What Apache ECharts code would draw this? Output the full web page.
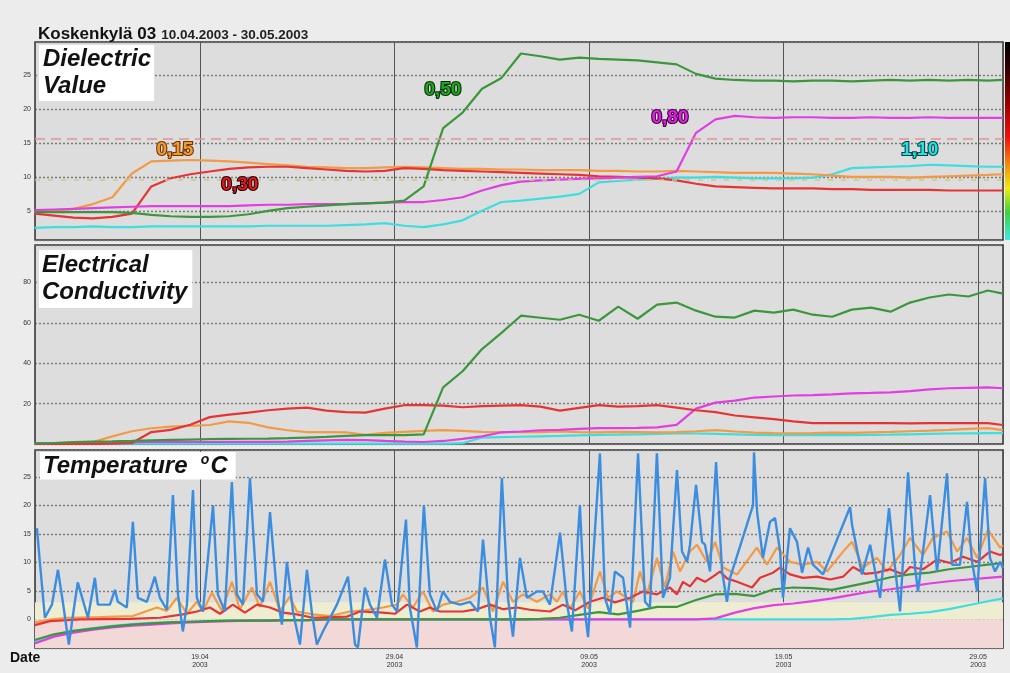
<!DOCTYPE html>
<html><head><meta charset="utf-8">
<script src="https://cdn.jsdelivr.net/npm/echarts@6/dist/echarts.min.js"></script>
<style>html,body{margin:0;padding:0;background:#ececec}#c{width:1010px;height:673px}</style>
</head><body><div id="c"></div>
<script>
// x values are days since 09.04.2003 00:00
const X_MIN = 1.52, X_MAX = 51.28;
const dayGrid = [1.5,2.5,3.5,4.5,5.5,6.5,7.5,8.5,9.5,10.5,11.5,12.5,13.5,14.5,15.5,16.5,17.5,18.5,19.5,20.5,21.5,22.5,23.5,24.5,25.5,26.5,27.5,28.5,29.5,30.5,31.5,32.5,33.5,34.5,35.5,36.5,37.5,38.5,39.5,40.5,41.5,42.5,43.5,44.5,45.5,46.5,47.5,48.5,49.5,50.5,51.28];
const depthNames = ['0,15','0,30','0,50','0,80','1,10'];

// Dielectric value
const dv015 = [4.8,5.0,5.3,6.0,7.0,10.5,12.3,12.4,12.5,12.4,12.3,12.1,11.9,11.7,11.5,11.4,11.3,11.3,11.4,11.5,11.4,11.3,11.2,11.2,11.1,11.1,11.0,11.0,11.0,10.9,10.9,10.8,10.8,10.9,10.8,10.7,10.6,10.6,10.6,10.5,10.4,10.2,10.0,10.0,10.0,9.9,10.0,10.1,10.2,10.3,10.4];
const dv030 = [4.6,4.3,4.0,3.9,4.1,4.6,8.6,9.8,10.4,10.8,11.2,11.4,11.5,11.5,11.3,11.1,10.9,10.8,10.9,11.3,11.2,11.0,10.9,10.8,10.7,10.6,10.5,10.4,10.3,10.1,10.0,9.9,9.8,9.5,9.0,8.6,8.5,8.4,8.3,8.3,8.3,8.2,8.2,8.1,8.1,8.1,8.1,8.0,8.0,8.0,8.0];
const dv050 = [4.8,4.8,4.8,4.8,4.8,4.7,4.4,4.2,4.1,4.1,4.2,4.5,5.0,5.4,5.6,5.8,6.0,6.1,6.2,6.5,8.6,17.2,19.5,23.0,24.6,28.2,27.8,27.3,27.6,27.4,27.3,27.2,26.9,26.6,25.2,24.5,24.3,24.2,24.2,24.1,24.2,24.2,24.1,24.2,24.3,24.2,24.3,24.2,24.3,24.2,24.3];
const dv080 = [5.1,5.2,5.3,5.4,5.5,5.6,5.7,5.7,5.7,5.7,5.7,5.8,5.9,5.9,6.0,6.0,6.0,6.1,6.2,6.3,6.3,6.6,7.0,8.0,8.8,9.3,9.5,9.6,9.7,9.8,9.9,10.0,10.1,10.8,16.5,18.5,19.0,18.8,18.7,18.8,18.8,18.7,18.7,18.8,18.7,18.7,18.8,18.7,18.7,18.7,18.7];
const dv110 = [2.5,2.6,2.6,2.7,2.6,2.6,2.7,2.7,2.7,2.7,2.7,2.7,2.8,2.8,2.8,2.8,2.9,3.0,3.2,2.8,2.6,3.0,3.6,5.0,6.3,6.5,6.8,7.1,7.5,9.2,9.4,9.6,9.7,9.9,9.9,10.0,9.9,9.8,9.8,9.8,9.9,10.4,11.3,11.4,11.5,11.6,11.8,11.7,11.6,11.5,11.5];
const dvRefLines = [15.7, 9.6];
// label anchor points [day, value]
const dvTagAt = [[8.71,14.0],[12.05,8.8],[22.49,22.8],[34.16,18.7],[47.0,14.0]];

// Electrical conductivity
const ec015 = [0.2,0.3,0.6,1.0,3.8,6.3,7.8,8.6,9.0,9.4,11.2,10.5,8.2,6.8,5.9,5.9,5.8,4.5,5.5,6.0,6.5,6.9,6.5,6.0,5.9,5.9,5.9,6.2,5.9,5.8,6.0,5.9,5.8,5.9,6.3,6.9,6.2,5.6,5.4,5.3,5.4,5.6,5.5,5.8,6.0,6.3,6.6,7.0,7.5,7.9,6.9];
const ec030 = [0,0,0,0,0.2,0.5,5.9,7.0,9.5,13.3,14.5,15.5,16.7,17.5,18.0,16.5,15.8,15.5,17.5,19.2,19.2,19.0,18.2,18.7,19.0,19.2,18.5,16.5,17.9,19.2,18.5,18.7,19.2,18.0,16.7,15.8,14.1,13.2,12.3,11.2,10.3,10.3,10.3,10.3,10.3,10.2,10.3,10.3,10.4,10.3,9.4];
const ec050 = [0.3,0.5,1.0,1.2,1.3,1.5,1.8,2.0,2.2,2.4,2.5,2.6,2.7,2.9,3.2,3.5,4.0,4.4,4.4,4.4,4.8,28,36,47,55,63.5,62.5,61.5,64,61,68,62,69,70,66,63,62.6,66,65,66.5,64,63,66.5,67.5,65.5,70,72.5,74,73,76,74.4];
const ec080 = [0.5,0.5,0.6,0.7,0.8,0.9,1.0,1.0,1.0,1.0,1.1,1.1,1.1,1.2,1.5,1.8,2.0,1.9,1.5,1.2,1.0,1.5,2.5,3.8,5.8,6.2,6.8,7.0,7.5,7.9,7.9,8.0,8.2,9.5,17.5,20.5,21.5,23.0,23.5,24.0,24.2,24.6,25.1,25.3,25.6,26.2,27.0,27.6,27.8,28.0,27.6];
const ec110 = [0.2,0.2,0.2,0.2,0.2,0.2,0.2,0.2,0.2,0.2,0.2,0.2,0.2,0.2,0.2,0.2,0.2,0.2,0.2,0.2,0.2,0.2,0.4,3.2,3.4,3.6,3.8,4.0,4.3,4.5,4.6,4.8,5.0,5.3,5.2,5.0,4.8,4.5,4.4,4.4,4.4,4.5,4.4,4.5,4.6,4.8,5.0,5.2,5.3,5.4,5.4];

// Temperature [day, °C]
const tAir = [[1.62,16],[1.77,10],[2.03,0.3],[2.39,2.6],[2.70,8.7],[2.95,3.1],[3.26,-4.4],[3.57,3.1],[3.72,6.5],[4.24,0.3],[4.60,7.3],[4.75,2.6],[5.37,2.6],[5.63,5.2],[5.78,3.1],[6.24,2.1],[6.55,17.1],[6.81,3.8],[7.27,3.1],[7.68,7.5],[7.94,3.8],[8.30,1.7],[8.61,21.8],[8.87,4.4],[9.12,-2.1],[9.33,2.6],[9.64,22.7],[9.84,3.8],[10.15,1.4],[10.67,20],[10.92,4.4],[11.28,1.4],[11.64,24.1],[11.90,4.4],[12.21,2.6],[12.57,24.8],[12.93,4.4],[13.24,3.1],[13.60,18.8],[13.96,4.4],[14.21,-0.9],[14.47,10.1],[14.78,1.4],[15.14,-4.4],[15.50,8.7],[15.76,1.0],[16.01,-4.4],[16.32,-2.1],[17.04,2.6],[17.61,7.5],[17.97,-4.4],[18.12,-4.9],[18.48,5.6],[18.74,2.6],[19.10,0.3],[19.51,10.5],[19.87,2.6],[20.13,1.4],[20.59,17.5],[20.79,2.1],[21.15,-4.9],[21.51,20],[21.82,4.4],[22.18,1.4],[22.49,4.9],[22.85,3.1],[23.37,2.6],[23.88,3.1],[24.29,1.4],[24.55,14],[24.91,0.3],[25.16,-4.9],[25.52,24.8],[25.83,3.8],[26.09,-3],[26.45,10.8],[26.81,3.8],[27.32,4.9],[27.63,4.9],[27.99,2.6],[28.51,15.2],[28.87,2.6],[29.12,-2.1],[29.53,20],[29.79,1.4],[29.95,-3.1],[30.56,29.1],[30.82,3.8],[31.08,0.9],[31.33,8.4],[31.75,7.3],[32.11,-1.4],[32.52,29.1],[32.88,3.1],[33.13,2.1],[33.49,29.1],[33.80,3.8],[34.16,7.3],[34.52,26.2],[34.78,11.9],[35.04,10.1],[35.19,13.1],[35.50,23.6],[35.81,13.6],[35.96,13.1],[36.22,8.4],[36.53,27.6],[36.84,8.4],[37.09,3.1],[37.25,7.3],[38.43,20],[38.48,29.3],[38.64,18.8],[38.94,10.8],[39.30,17.1],[39.56,17.8],[39.82,12],[39.97,3.8],[40.33,16],[40.69,13.6],[40.95,8.2],[41.26,12.6],[41.51,9.6],[42.03,7.9],[43.42,19.7],[43.52,16.6],[44.03,7.9],[44.45,13.1],[44.96,3.8],[45.42,19.5],[45.73,9.1],[45.99,1.4],[46.40,25.8],[46.76,9],[46.91,4.9],[47.53,21.8],[47.89,8.4],[48.40,25.6],[48.66,9.6],[49.07,9.6],[49.43,20.6],[49.69,10.1],[49.95,4.9],[50.36,24.8],[50.61,10.8],[50.87,8.4],[51.13,10.1],[51.28,9]];
const t015 = [[1.51,-0.5],[2.29,0.0],[3.16,0.3],[4.86,0.4],[6.55,0.6],[7.79,2.1],[8.30,1.5],[8.81,3.8],[9.33,1.0],[9.84,3.1],[10.15,1.4],[10.61,4.7],[11.13,1.5],[11.64,6.6],[12.05,1.8],[12.67,5.6],[13.08,2.2],[13.60,6.6],[14.11,1.5],[14.62,4.0],[14.98,1.4],[15.81,0.9],[16.68,0.6],[17.71,1.4],[18.48,1.6],[19.41,2.1],[20.13,2.6],[20.43,4.4],[20.95,2.1],[21.46,4.9],[21.98,1.4],[22.49,2.6],[23.21,3.1],[23.88,3.8],[24.55,5.6],[25.06,1.4],[25.58,6.6],[26.09,3.1],[26.60,4.4],[27.32,3.1],[27.99,4.4],[28.35,3.1],[28.66,4.9],[29.02,1.9],[29.53,4.9],[29.95,1.9],[30.56,8.4],[30.97,3.8],[31.44,4.9],[32.26,3.1],[32.62,8.4],[32.98,4.4],[33.49,10.8],[33.90,5.6],[34.32,11.9],[34.68,8.4],[35.19,11.9],[35.55,13.1],[36.06,10.1],[36.48,13.6],[36.89,9.1],[37.61,7.9],[38.63,12.6],[39.15,9.6],[39.66,12.6],[40.33,10.1],[41.00,9.6],[41.72,10.1],[42.23,8.4],[43.06,11.9],[43.52,13.6],[44.08,9.1],[44.80,10.8],[45.32,8.4],[45.99,11.3],[46.50,14.3],[47.17,11.3],[47.68,14.3],[48.40,15.4],[48.92,11.9],[49.43,14.3],[49.95,10.8],[50.51,15.7],[51.13,12.6],[51.28,13]];
const t030 = [[1.51,-1.0],[2.29,-0.3],[3.83,0.0],[6.40,0.1],[7.94,0.3],[9.12,0.9],[9.84,1.4],[10.51,2.1],[11.03,1.0],[11.69,2.6],[12.31,1.2],[12.93,2.6],[13.60,2.1],[14.26,1.2],[14.98,0.9],[15.81,0.3],[17.56,0.5],[18.22,1.4],[19.41,1.2],[20.02,1.0],[20.64,2.6],[21.31,1.4],[21.82,2.1],[22.34,1.4],[23.52,1.4],[24.24,1.8],[24.91,2.6],[25.58,1.8],[26.30,2.1],[26.96,1.7],[27.99,1.4],[28.66,2.6],[29.28,1.6],[30.05,3.1],[30.72,3.8],[31.33,3.0],[32.11,3.8],[32.77,4.9],[33.49,4.4],[34.16,5.6],[34.52,4.4],[34.83,6.6],[35.19,5.8],[35.55,7.3],[35.96,6.6],[36.37,7.5],[36.73,8.4],[37.09,7.2],[37.61,6.6],[38.38,5.6],[38.79,7.3],[39.46,8.2],[39.82,9.1],[40.33,7.9],[41.00,7.3],[41.72,7.5],[42.39,7.0],[43.06,7.5],[43.57,9.2],[44.19,8.0],[44.80,8.2],[45.47,8.8],[46.14,7.9],[46.50,9.2],[47.17,8.8],[47.89,10.5],[48.56,9.9],[49.23,11.0],[49.95,10.1],[50.61,11.9],[51.13,11.3],[51.28,11.5]];
const t050 = [-3.6,-2.6,-2.0,-1.6,-1.2,-0.9,-0.7,-0.5,-0.4,-0.3,-0.2,-0.2,-0.2,-0.1,-0.1,0,0,0,0,0,0,0,0,0,0,0,0.1,0.3,0.8,1.3,0.9,1.5,2.2,2.2,3.4,4.4,4.5,4.1,5.3,5.6,5.5,5.2,5.9,6.6,7.4,7.9,8.2,8.8,9.2,9.6,9.9];
const t080 = [-4.2,-3.0,-2.3,-1.8,-1.4,-1.1,-0.9,-0.7,-0.5,-0.4,-0.3,-0.2,-0.2,-0.1,-0.1,0,0,0,0,0,0,0,0,0,0,0,0,0,0,0,0,0,0,0,0,0.2,1.2,2.0,2.5,2.8,3.2,3.7,4.3,4.9,5.3,5.8,6.3,6.7,7.0,7.3,7.5];
const t110 = [-4.0,-2.8,-2.0,-1.5,-1.1,-0.8,-0.6,-0.5,-0.4,-0.3,-0.2,-0.2,-0.1,-0.1,-0.1,0,0,0,0,0,0,0,0,0,0,0,0,0,0,0,0,0,0,0,0,0,0,0,0,0,0,0,0.1,0.4,0.8,1.0,1.3,1.8,2.5,3.2,3.7];
const tBands = [[-5,0],[0,3]];

const C = {o:'#f29a45', r:'#e63434', g:'#3c973c', m:'#e23ee2', c:'#3fdede', b:'#3b8de0'};
const FONT = '"Liberation Sans", Arial, sans-serif';
const zipDaily = a => dayGrid.map((d,i)=>[d,a[i]]);

function fmtDay(v){
  const d = new Date(2003, 3, 9 + Math.round(v));
  const p = n => String(n).padStart(2,'0');
  return p(d.getDate()) + '.' + p(d.getMonth()+1) + '\n2003';
}
function line(name, idx, data, color, extra){
  return Object.assign({type:'line', name, xAxisIndex:idx, yAxisIndex:idx, data, showSymbol:false, symbol:'none',
    lineStyle:{color, width:2.2}, itemStyle:{color}, silent:true, z:3}, extra||{});
}
function tag(text, coord, fill, stroke){
  return {markPoint:{symbol:'circle', symbolSize:1, silent:true, itemStyle:{color:'rgba(0,0,0,0)'},
    label:{show:true, position:'inside', formatter:text, fontSize:19, fontWeight:'bold', fontFamily:FONT,
      color:fill, textBorderColor:stroke, textBorderWidth:2.2},
    data:[{coord}]}};
}

const gridBase = {left:35, right:7, show:true, backgroundColor:'#dddddd', borderColor:'#333', borderWidth:1.5};
const grids = [
  Object.assign({top:42, height:198}, gridBase),
  Object.assign({top:245, height:199}, gridBase),
  Object.assign({top:450, height:198}, gridBase)
];
const xAxes = [0,1,2].map(i => ({
  type:'value', gridIndex:i, min:X_MIN, max:X_MAX, minInterval:10, maxInterval:10,
  axisLine:{show:false}, axisTick:{show:false},
  splitLine:{show:true, lineStyle:{color:'#555', width:1}},
  axisLabel:{show:i===2, fontSize:7, color:'#333', lineHeight:8, margin:5, fontFamily:FONT,
    formatter:v => (Math.abs(v-Math.round(v))<1e-6 && Math.round(v)%10===0) ? fmtDay(v) : ''}
}));
const ySplit = {show:true, lineStyle:{color:'#7a7a7a', width:1.4, type:[2,2]}};
const yLab = (lo,hi,step) => ({fontSize:7, color:'#333', margin:4, fontFamily:FONT,
  formatter:v => (v>=lo-1e-6 && v<=hi+1e-6 && Math.abs(v/step-Math.round(v/step))<1e-6) ? String(Math.round(v)) : ''});
const yAxes = [
  {type:'value', gridIndex:0, min:0.7, max:29.9, minInterval:5, maxInterval:5, axisLine:{show:false}, axisTick:{show:false}, splitLine:ySplit, axisLabel:yLab(5,25,5)},
  {type:'value', gridIndex:1, min:0, max:98.5, interval:20, axisLine:{show:false}, axisTick:{show:false}, splitLine:ySplit, axisLabel:yLab(20,80,20)},
  {type:'value', gridIndex:2, min:-5, max:29.7, interval:5, axisLine:{show:false}, axisTick:{show:false}, splitLine:ySplit, axisLabel:yLab(0,25,5)}
];

const dvSeries = [dv015, dv030, dv050, dv080, dv110];
const ecSeries = [ec015, ec030, ec050, ec080, ec110];
const cols = [C.o, C.r, C.g, C.m, C.c];
const tagStyle = [['#f39a2e','#6b3300'],['#e8141b','#1a0000'],['#22a322','#042e04'],['#e21fe2','#3a003a'],['#25e0e0','#003f3f']];

const series = [];
// panel 1
series.push(line('ref', 0, [[X_MIN, dvRefLines[0]]], 'rgba(0,0,0,0)', {z:2, lineStyle:{width:0},
  markLine:{silent:true, symbol:'none', label:{show:false}, data:[
    {yAxis:dvRefLines[0], lineStyle:{color:'#e79191', width:1.6, type:[10,6]}},
    {yAxis:dvRefLines[1], lineStyle:{color:'#c9c98a', width:1.6, type:[5,8]}}]}}));
[4,0,1,3,2].forEach(k => {
  series.push(line('DV '+depthNames[k], 0, zipDaily(dvSeries[k]), cols[k], tag(depthNames[k], dvTagAt[k], tagStyle[k][0], tagStyle[k][1])));
});
// panel 2
[4,0,3,1,2].forEach(k => series.push(line('EC '+depthNames[k], 1, zipDaily(ecSeries[k]), cols[k])));
// panel 3
series.push(line('bands', 2, [[X_MIN, 0]], 'rgba(0,0,0,0)', {z:1, lineStyle:{width:0},
  markArea:{silent:true, data:[
    [{xAxis:X_MIN, yAxis:tBands[0][0], itemStyle:{color:'#f3d8d8'}},{xAxis:X_MAX, yAxis:tBands[0][1]}],
    [{xAxis:X_MIN, yAxis:tBands[1][0], itemStyle:{color:'#eeedd2'}},{xAxis:X_MAX, yAxis:tBands[1][1]}]]}}));
series.push(line('T 1,10', 2, zipDaily(t110), C.c));
series.push(line('T 0,80', 2, zipDaily(t080), C.m));
series.push(line('T 0,50', 2, zipDaily(t050), C.g));
series.push(line('T 0,15', 2, t015, C.o));
series.push(line('T 0,30', 2, t030, C.r));
series.push(line('T air', 2, tAir, C.b, {lineStyle:{color:C.b, width:2.4}}));

const titleBox = {backgroundColor:'#fff', textStyle:{fontSize:24, fontStyle:'italic', fontWeight:'bold', fontFamily:FONT, color:'#111', lineHeight:27}};
const option = {
  animation:false,
  backgroundColor:'#ececec',
  textStyle:{fontFamily:FONT},
  title:[
    {left:33, top:20, text:'{b|Koskenkylä 03} {n|10.04.2003 - 30.05.2003}',
      textStyle:{rich:{b:{fontSize:17, fontWeight:'bold', color:'#111', fontFamily:FONT},
                       n:{fontSize:13.5, color:'#222', fontFamily:FONT, padding:[2,0,0,0]}}}},
    Object.assign({left:39, top:45, text:'Dielectric\nValue', padding:[1,3,1,4]}, titleBox),
    Object.assign({left:39, top:250, text:'Electrical\nConductivity', padding:[2,5,2,3]}, titleBox),
    {left:40, top:452, text:'{t|Temperature  }{s|o}{t|C}', padding:[1,8,1,3], backgroundColor:'#fff',
      textStyle:{rich:{t:{fontSize:24, fontStyle:'italic', fontWeight:'bold', fontFamily:FONT, color:'#111', lineHeight:27},
                       s:{fontSize:14, fontStyle:'italic', fontWeight:'bold', fontFamily:FONT, color:'#111', lineHeight:14, verticalAlign:'top', padding:[0,1,0,0]}}}}
  ],
  grid:grids, xAxis:xAxes, yAxis:yAxes, series,
  graphic:[
    {type:'rect', left:1005, top:42, shape:{width:5, height:198}, silent:true,
      style:{fill:new echarts.graphic.LinearGradient(0,0,0,1,[
        {offset:0,color:'#000'},{offset:0.12,color:'#2a0000'},{offset:0.32,color:'#a00000'},{offset:0.48,color:'#f01010'},
        {offset:0.62,color:'#f58a10'},{offset:0.74,color:'#eeee10'},{offset:0.86,color:'#40d040'},{offset:1,color:'#40e8e8'}])}},
    {type:'text', left:10, top:651, silent:true, style:{text:'Date', fontSize:14, fontWeight:'bold', fontFamily:FONT, fill:'#111'}}
  ]
};
const chart = echarts.init(document.getElementById('c'), null, {renderer:'canvas'});
chart.setOption(option);
</script></body></html>
